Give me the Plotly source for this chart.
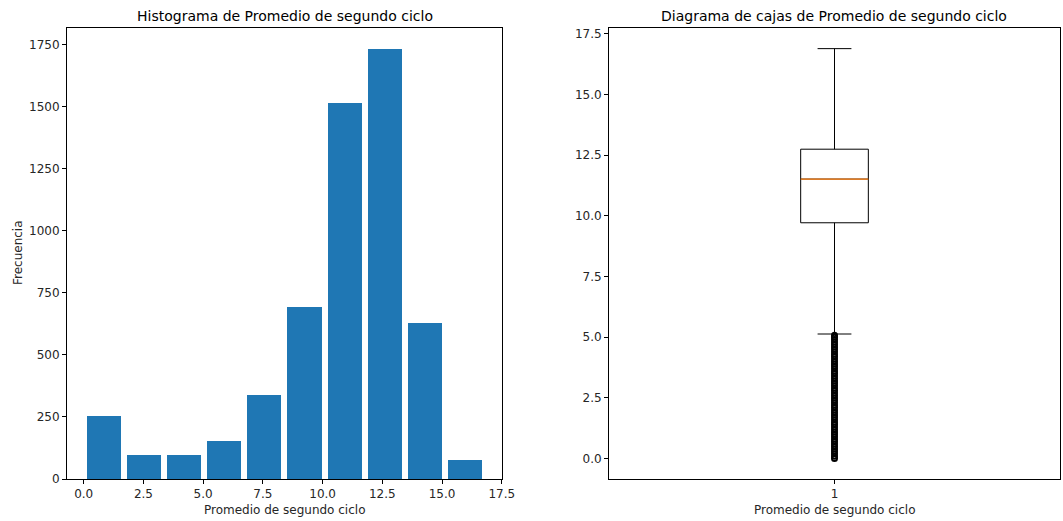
import plotly.graph_objects as go

# Histogram data (10 bins between min and max)
bin_edges = [0.0, 1.68, 3.36, 5.04, 6.72, 8.40, 10.08, 11.76, 13.44, 15.12, 16.80]
counts = [254, 95, 95, 152, 339, 691, 1514, 1730, 630, 76]
rwidth = 0.85

# Box plot statistics
box_q1 = 9.71
box_median = 11.51
box_q3 = 12.74
box_lower = 5.13
box_upper = 16.88
outliers = [0.0, 0.1, 0.2, 0.3, 0.4, 0.5, 0.6, 0.7, 0.8, 0.9, 1.0, 1.1, 1.2, 1.3,
            1.4, 1.5, 1.6, 1.7, 1.8, 1.9, 2.0, 2.1, 2.2, 2.3, 2.4, 2.5, 2.6, 2.7,
            2.8, 2.9, 3.0, 3.1, 3.2, 3.3, 3.4, 3.5, 3.6, 3.7, 3.8, 3.9, 4.0, 4.1,
            4.2, 4.3, 4.4, 4.5, 4.6, 4.7, 4.8, 4.9, 5.0, 5.08]

hist_ticks = [0.0, 2.5, 5.0, 7.5, 10.0, 12.5, 15.0, 17.5]
hist_yticks = [0, 250, 500, 750, 1000, 1250, 1500, 1750]
box_yticks = [0.0, 2.5, 5.0, 7.5, 10.0, 12.5, 15.0, 17.5]

title_left = "Histograma de Promedio de segundo ciclo"
title_right = "Diagrama de cajas de Promedio de segundo ciclo"
xlabel = "Promedio de segundo ciclo"
ylabel = "Frecuencia"

FONT = "DejaVu Sans"
W, H = 1063, 521

centers = [(bin_edges[i] + bin_edges[i + 1]) / 2 for i in range(len(counts))]
widths = [(bin_edges[i + 1] - bin_edges[i]) * rwidth for i in range(len(counts))]

fig = go.Figure()
fig.add_trace(go.Bar(x=centers, y=counts, width=widths, marker=dict(color="#1f77b4", line=dict(width=0)),
                     xaxis="x", yaxis="y", showlegend=False, hoverinfo="x+y"))

fig.add_trace(go.Box(x=[1], q1=[box_q1], median=[box_median], q3=[box_q3],
                     lowerfence=[box_lower], upperfence=[box_upper],
                     width=0.15, whiskerwidth=0.5, fillcolor="white",
                     line=dict(color="black", width=1), boxpoints=False,
                     xaxis="x2", yaxis="y2", showlegend=False))
fig.add_trace(go.Scatter(x=[1 - 0.075, 1 + 0.075], y=[box_median, box_median], mode="lines",
                         line=dict(color="#ff7f0e", width=1.3), xaxis="x2", yaxis="y2",
                         showlegend=False, hoverinfo="skip"))
fig.add_trace(go.Scatter(x=[1] * len(outliers), y=outliers, mode="markers",
                         marker=dict(symbol="circle-open", size=5, color="black",
                                     line=dict(color="black", width=2)),
                         xaxis="x2", yaxis="y2", showlegend=False))

axis_common = dict(showline=True, mirror=True, linecolor="black", linewidth=1,
                   ticks="outside", ticklen=4, tickcolor="black", tickwidth=1,
                   showgrid=False, zeroline=False, automargin=False,
                   tickfont=dict(family=FONT, size=12, color="#262626"))

l0, l1 = 67 / W, 502 / W
r0, r1 = 609 / W, 1060 / W
b0, b1 = (H - 479) / H, (H - 28) / H

fig.update_layout(
    width=W, height=H, margin=dict(l=0, r=0, t=0, b=0),
    paper_bgcolor="white", plot_bgcolor="white",
    font=dict(family=FONT, size=12, color="#262626"),
    bargap=0,
    xaxis=dict(axis_common, domain=[l0, l1], range=[-0.70, 17.51], tickvals=hist_ticks,
               ticktext=[f"{v:.1f}" for v in hist_ticks], anchor="y"),
    yaxis=dict(axis_common, domain=[b0, b1], range=[0, 1816], tickvals=hist_yticks, anchor="x"),
    xaxis2=dict(axis_common, domain=[r0, r1], range=[0.5, 1.5], tickvals=[1], ticktext=["1"], anchor="y2"),
    yaxis2=dict(axis_common, domain=[b0, b1], range=[-0.84, 17.73], tickvals=box_yticks,
                ticktext=[f"{v:.1f}" for v in box_yticks], anchor="x2"),
    annotations=[
        dict(text=title_left, x=(l0 + l1) / 2, y=(H - 16) / H, xref="paper", yref="paper",
             showarrow=False, font=dict(family=FONT, size=14, color="black"), xanchor="center", yanchor="middle"),
        dict(text=title_right, x=(r0 + r1) / 2, y=(H - 16) / H, xref="paper", yref="paper",
             showarrow=False, font=dict(family=FONT, size=14, color="black"), xanchor="center", yanchor="middle"),
        dict(text=xlabel, x=(l0 + l1) / 2, y=(H - 510) / H, xref="paper", yref="paper",
             showarrow=False, font=dict(family=FONT, size=12, color="#262626"), xanchor="center", yanchor="middle"),
        dict(text=xlabel, x=(r0 + r1) / 2, y=(H - 510) / H, xref="paper", yref="paper",
             showarrow=False, font=dict(family=FONT, size=12, color="#262626"), xanchor="center", yanchor="middle"),
        dict(text=ylabel, x=18 / W, y=(H - 253) / H, xref="paper", yref="paper", textangle=-90,
             showarrow=False, font=dict(family=FONT, size=12, color="#262626"), xanchor="center", yanchor="middle"),
    ],
)

fig.write_html("out.html")
